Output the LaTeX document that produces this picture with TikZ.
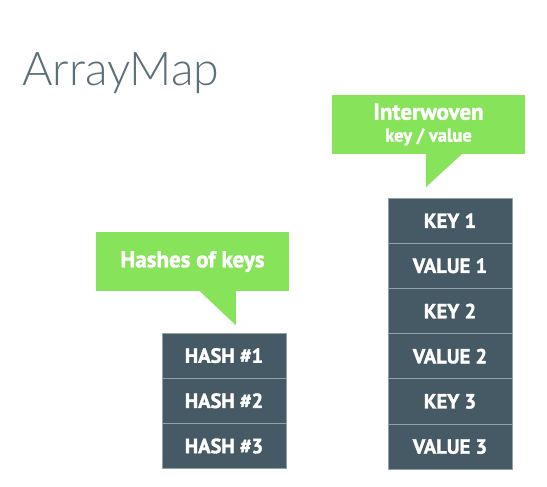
\documentclass[tikz,border=0pt]{standalone}
\usepackage{fontspec}
\setmainfont{PT Sans}[BoldFeatures={FakeBold=1.6}]
\newfontfamily\titlefont{Lato Light}
\usetikzlibrary{positioning}

\definecolor{notegreen}{RGB}{135,228,90}
\definecolor{cellslate}{RGB}{69,90,100}
\definecolor{cellrule}{RGB}{143,163,171}
\definecolor{titlegrey}{RGB}{91,111,120}

\tikzset{
  cell/.style={draw=cellrule, line width=1pt, fill=cellslate, text=white,
    minimum width=124pt, minimum height=45.2pt, inner sep=0pt, outer sep=0pt,
    font=\bfseries\fontsize{20.5}{22}\selectfont},
  note/.style={fill=notegreen, text=white, minimum width=193pt,
    minimum height=59pt, inner sep=0pt, align=center},
}

\begin{document}
\begin{tikzpicture}[x=1pt,y=-1pt]
    \useasboundingbox[fill=white] (0,0) rectangle (547,487);
    \node[anchor=base west, inner sep=0pt, text=titlegrey,
      font=\titlefont\fontsize{46.5}{50}\selectfont] (title) at (22,86) {ArrayMap};

    % hashes column
    \node[cell] (hash1) at (224,355.6) {HASH \#1};
    \node[cell, below=0pt of hash1] (hash2) {HASH \#2};
    \node[cell, below=0pt of hash2] (hash3) {HASH \#3};

    % keys and values column
    \node[cell] (key1) at (450,220.6) {KEY 1};
    \node[cell, below=0pt of key1] (val1) {VALUE 1};
    \node[cell, below=0pt of val1] (key2) {KEY 2};
    \node[cell, below=0pt of key2] (val2) {VALUE 2};
    \node[cell, below=0pt of val2] (key3) {KEY 3};
    \node[cell, below=0pt of key3] (val3) {VALUE 3};

    % callouts
    \node[note, font=\bfseries\fontsize{23}{26}\selectfont] (hashnote) at (192.5,261.5) {Hashes of keys};
    \fill[notegreen] ([xshift=104pt]hashnote.south west) -- ([xshift=140pt]hashnote.south west)
      -- ([xshift=140pt,yshift=-34pt]hashnote.south west) -- cycle;

    \node[note, font=\bfseries\fontsize{23}{26}\selectfont] (pairnote) at (428.5,124.5)
      {Interwoven\\[-4pt]{\fontsize{18.5}{20}\selectfont key / value}};
    \fill[notegreen] ([xshift=94pt]pairnote.south west) -- ([xshift=130pt]pairnote.south west)
      -- ([xshift=94pt,yshift=-33pt]pairnote.south west) -- cycle;
  \end{tikzpicture}
\end{document}
